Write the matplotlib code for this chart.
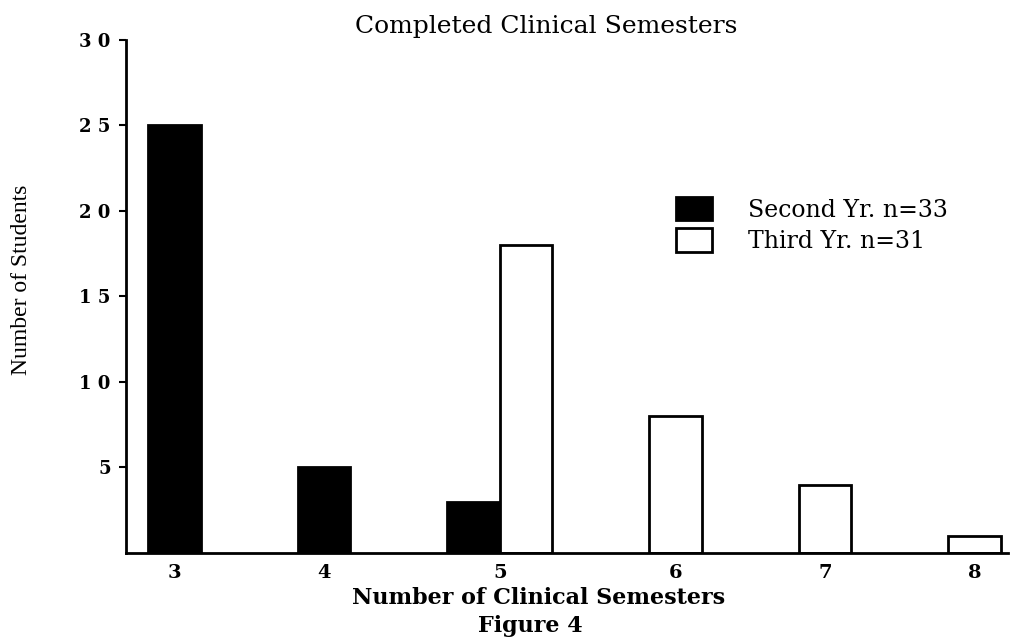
import matplotlib
matplotlib.use("Agg")
import matplotlib.pyplot as plt
from matplotlib.patches import Patch
import numpy as np

categories = [3, 4, 5, 6, 7, 8]
second_yr = [25, 5, 3, 0, 0, 0]
third_yr = [0, 0, 18, 8, 4, 1]
series_labels = ["Second Yr. n=33", "Third Yr. n=31"]
y_ticks = [5, 10, 15, 20, 25, 30]
y_tick_labels = ["5", "1 0", "1 5", "2 0", "2 5", "3 0"]

fig = plt.figure(figsize=(10.25, 6.37), dpi=100)
ax = fig.add_axes([0.1229, 0.1319, 0.8605, 0.8053])

x = np.array(categories, dtype=float)
w = 0.35
offs = np.array([-w / 2, w / 2])
b1 = ax.bar(x + offs[0], second_yr, width=w, color="black", edgecolor="black", linewidth=2)
b2 = ax.bar(x + offs[1], third_yr, width=w, color="white", edgecolor="black", linewidth=2)

for bars in (b1, b2):
    for r in bars:
        if r.get_height() == 0:
            r.set_visible(False)

vals = np.array([second_yr, third_yr])
tick_pos = [c + offs[vals[:, i] > 0].mean() for i, c in enumerate(categories)]

ax.set_xlim(2.5, 8.4)
ax.set_ylim(0, 30)
ax.set_xticks(tick_pos)
ax.set_xticklabels([str(c) for c in categories], fontsize=14, fontweight="bold", family="DejaVu Serif")
ax.set_yticks(y_ticks)
ax.set_yticklabels(y_tick_labels, fontsize=13, fontweight="bold", family="DejaVu Serif")
ax.tick_params(axis="x", length=0, pad=8)
ax.tick_params(axis="y", length=5, width=1.5, direction="out", pad=6)

for s in ("top", "right"):
    ax.spines[s].set_visible(False)
ax.spines["left"].set_linewidth(2)
ax.spines["bottom"].set_linewidth(2)

fig.text(0.533, 0.958, "Completed Clinical Semesters", ha="center", va="center",
         fontsize=18, family="DejaVu Serif")
fig.text(0.525, 0.061, "Number of Clinical Semesters", ha="center", va="center",
         fontsize=16, fontweight="bold", family="DejaVu Serif")
fig.text(0.517, 0.018, "Figure 4", ha="center", va="center",
         fontsize=16, fontweight="bold", family="DejaVu Serif")
fig.text(0.021, 0.560, "Number of Students", ha="center", va="center", rotation=90,
         fontsize=17, family="Liberation Serif")

handles = [Patch(facecolor="black", edgecolor="black", linewidth=2, label=series_labels[0]),
           Patch(facecolor="white", edgecolor="black", linewidth=2, label=series_labels[1])]
ax.legend(handles=handles, loc="upper left", bbox_to_anchor=(0.6595, 0.6907),
          bbox_transform=fig.transFigure, frameon=False, borderpad=0, borderaxespad=0,
          handlelength=1.53, handleheight=1.15, handletextpad=1.53, labelspacing=0.28,
          prop={"family": "DejaVu Serif", "size": 17})

fig.savefig("out.png", dpi=100)
